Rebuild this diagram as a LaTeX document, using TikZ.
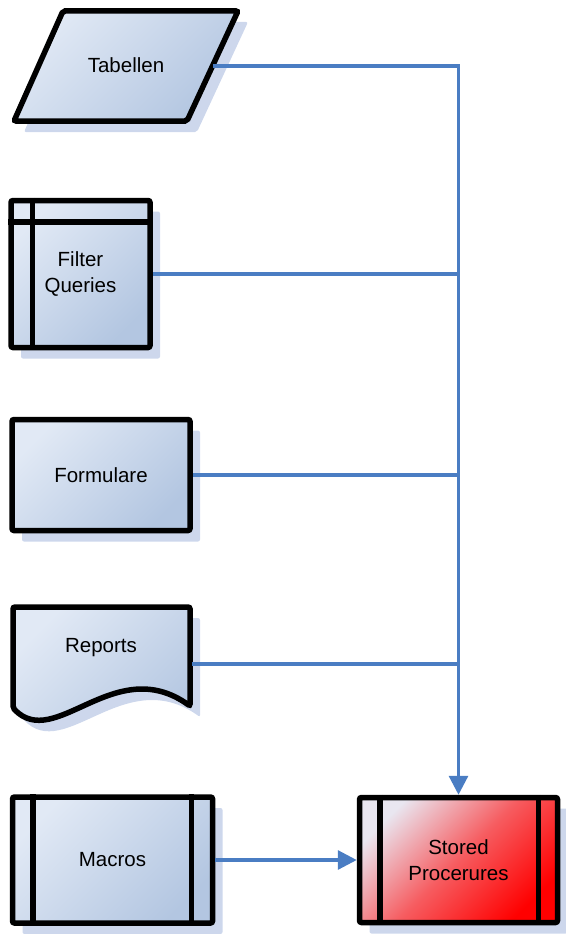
\documentclass[tikz,border=0pt]{standalone}
\usepackage{fontspec}
\setmainfont{Liberation Sans}
\usetikzlibrary{arrows.meta,shadows}

\definecolor{boxlight}{HTML}{E1E9F5}
\definecolor{boxdark}{HTML}{B3C6E1}
\definecolor{redlight}{HTML}{E9E6F0}
\definecolor{linkblue}{HTML}{4A7DC3}
\definecolor{shadowblue}{HTML}{CDD7EC}

\tikzset{
  flowshadow/.style={drop shadow={shadow xshift=10pt, shadow yshift=-11pt, opacity=1, fill=shadowblue}},
  bluefill/.style={top color=boxlight, bottom color=boxdark, shading angle=45},
  redfill/.style={top color=redlight, bottom color=red, middle color=red!60!redlight, shading angle=45},
  flowpath/.style={draw=black, line width=5.5pt, rounded corners=2pt, bluefill, flowshadow},
  flowbox/.style={flowpath, inner sep=0pt, font=\fontsize{20.5}{26}\selectfont, align=center},
  flowtext/.style={font=\fontsize{20.5}{26}\selectfont, align=center},
  flowbar/.style={draw=black, line width=5.5pt},
  link/.style={draw=linkblue, line width=3.2pt},
  linkarrow/.style={link, -{Triangle[length=19pt,width=19pt]}}
}

\begin{document}
\begin{tikzpicture}[x=1pt, y=-1pt]
    \useasboundingbox (0,0) rectangle (565,934);

    % Tabellen (Parallelogramm)
    \draw[flowpath] (63,11) -- (238,11) -- (187,121) -- (14,121) -- cycle;
    \node[flowtext] (tab) at (126,65) {Tabellen};
    \coordinate (tab-e) at (213,66);

    % Filter Queries (interner Speicher)
    \node[flowbox, minimum width=139pt, minimum height=147pt] (fq) at (80.5,274) {Filter\\Queries};
    \draw[flowbar] ([xshift=24pt]fq.north west) -- ([xshift=24pt]fq.south west);
    \draw[flowbar] ([yshift=-24pt]fq.north west) -- ([yshift=-24pt]fq.north east);

    % Formulare
    \node[flowbox, minimum width=178pt, minimum height=111pt] (form) at (101,475) {Formulare};

    % Reports (Dokument)
    \draw[flowpath] (13,607) -- (190,607) -- (190,706)
        .. controls (115,652) and (55,752) .. (13,708) -- cycle;
    \node[flowtext] (rep) at (101,648) {Reports};
    \coordinate (rep-e) at (192,664);

    % Macros (vordefinierter Prozess)
    \node[flowbox, minimum width=200pt, minimum height=126pt] (mac) at (112.5,860) {Macros};
    \draw[flowbar] ([xshift=23pt]mac.north west) -- ([xshift=23pt]mac.south west);
    \draw[flowbar] ([xshift=-24pt]mac.north east) -- ([xshift=-24pt]mac.south east);

    % Stored Procerures
    \node[flowbox, redfill, minimum width=198pt, minimum height=125pt] (sp) at (458.5,860) {Stored\\Procerures};
    \draw[flowbar] ([xshift=23pt]sp.north west) -- ([xshift=23pt]sp.south west);
    \draw[flowbar] ([xshift=-22pt]sp.north east) -- ([xshift=-22pt]sp.south east);

    % Verbindungen
    \draw[linkarrow] (tab-e) -| (sp.north);
    \draw[link] (fq.east) -- (fq.east -| sp.north);
    \draw[link] (form.east) -- (form.east -| sp.north);
    \draw[link] (rep-e) -- (rep-e -| sp.north);
    \draw[linkarrow] (mac.east) -- (mac.east -| sp.west);
\end{tikzpicture}
\end{document}
